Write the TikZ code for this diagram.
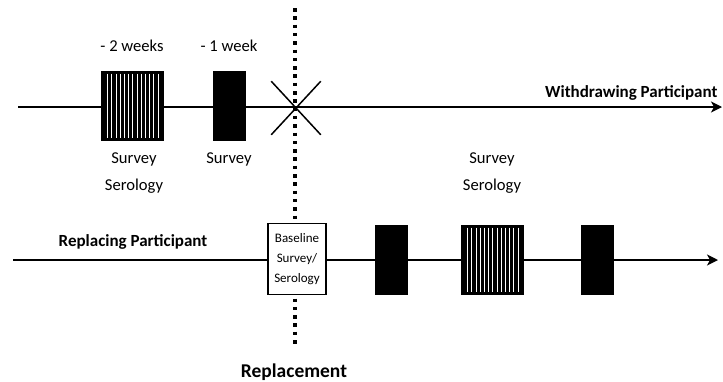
\documentclass[tikz,border=0pt]{standalone}
\usepackage{fontspec}
\setmainfont{Carlito}
\usetikzlibrary{arrows,arrows.meta,calc,positioning,shapes.misc}

\begin{document}
\begin{tikzpicture}[>={Stealth[length=11pt,width=11pt,inset=3pt]}, x=1pt, y=-1pt, font=\fontsize{16.6}{19}\selectfont]
	\tikzstyle{timeline}=[line width=1.5pt,->]
	\tikzstyle{visit}=[draw, fill=black, line width=1pt, inner sep=0pt, minimum width=32pt, minimum height=69pt]
	\tikzstyle{serovisit}=[visit, minimum width=62pt, path picture={
			\foreach \k in {0,...,12}
				\draw [white, line width=0.7pt] ($(path picture bounding box.north west)+(6.5+\k*4.2,2.5)$) -- ($(path picture bounding box.south west)+(6.5+\k*4.2,-2.5)$);
		}]
	\tikzstyle{heading}=[font=\fontsize{17}{20}\selectfont\bfseries]
	\tikzstyle{cutline}=[line width=3.5pt, dash pattern=on 3.5pt off 4.8pt]

	\useasboundingbox (0,0) rectangle (723,381);

	% replacement cut
	\coordinate (cuttop) at (295,8);
	\coordinate (cutbot) at (295,347);
	\draw [cutline] (cuttop) -- (cutbot);
	\node [heading, font=\fontsize{19.5}{22}\selectfont\bfseries] (replacement) at (294,372) {Replacement};

	% withdrawing participant
	\coordinate (wstart) at (18,107);
	\coordinate (wend) at (722,107);
	\draw [timeline] (wstart) -- (wend);
	\node [heading, anchor=east] (wlabel) at (721,93) {Withdrawing Participant};

	\node [serovisit] (wsero) at (132,105.5) {};
	\node [visit] (wsurv) at (229,105.5) {};
	\node [cross out, draw, line width=1.5pt, inner sep=0pt, minimum width=48pt, minimum height=52pt] (drop) at (296,108) {};

	\node at ($(wsero.north)+(0,-25)$) {- 2 weeks};
	\node at ($(wsurv.north)+(0,-25)$) {- 1 week};
	\node at ($(wsero.south)+(2,19)$) {Survey};
	\node at ($(wsero.south)+(2,46)$) {Serology};
	\node at ($(wsurv.south)+(0,19)$) {Survey};

	% replacing participant
	\coordinate (rstart) at (13,260);
	\coordinate (rend) at (718,260);
	\draw [timeline] (rstart) -- (rend);
	\node [heading] (rlabel) at (133,242) {Replacing Participant};

	\node [draw, fill=white, line width=1.5pt, inner sep=0pt, minimum width=58pt, minimum height=71pt, align=center, font=\fontsize{13}{20}\selectfont] (base) at (297,259) {Baseline\\Survey/\\Serology};
	\node [visit] (rsurv1) at (391,259.5) {};
	\node [serovisit] (rsero) at (492,259.5) {};
	\node [visit] (rsurv2) at (597,259.5) {};

	\node at ($(rsero.north)+(0,-65)$) {Survey};
	\node at ($(rsero.north)+(0,-38)$) {Serology};
\end{tikzpicture}
\end{document}
